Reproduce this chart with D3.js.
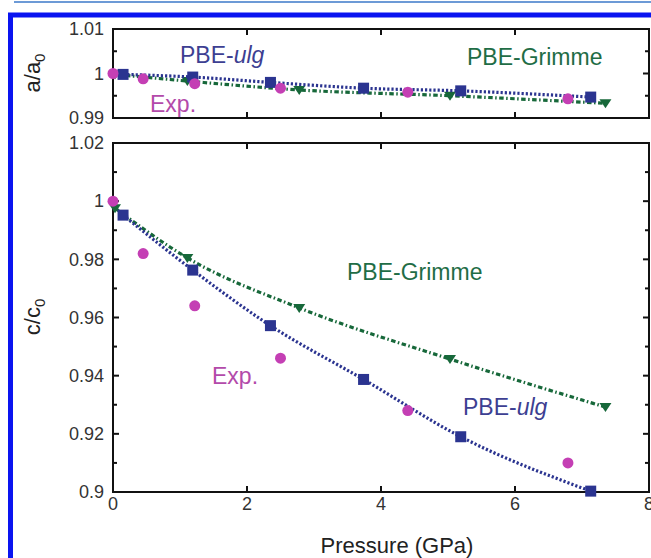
<!DOCTYPE html>
<html>
<head>
<meta charset="utf-8">
<script src="https://cdn.jsdelivr.net/npm/d3@7"></script>
<style>
  body { margin: 0; background: #fff; }
  svg { display: block; font-family: 'Liberation Sans', Arial, sans-serif; }
</style>
</head>
<body>
<div id="app"></div>
<script>
'use strict'

// data
const expP = [0, 0.45, 1.22, 2.5, 4.4, 6.79]
const expA = [1.0, 0.9988, 0.9977, 0.9967, 0.9958, 0.9943]
const expC = [1.0, 0.982, 0.964, 0.946, 0.928, 0.910]

const ulgP = [0.15, 1.19, 2.35, 3.74, 5.19, 7.13]
const ulgA = [0.9998, 0.9992, 0.9980, 0.9967, 0.9961, 0.9947]
const ulgC = [0.9952, 0.9763, 0.9572, 0.9387, 0.9190, 0.9003]

const grimP = [0.03, 1.11, 2.78, 5.03, 7.35]
const grimA = [0.9998, 0.9983, 0.9963, 0.9950, 0.9933]
const grimC = [0.9976, 0.9805, 0.9633, 0.9457, 0.9292]

const xTicks = [0, 2, 4, 6, 8]
const aTicks = [0.99, 1, 1.01]
const aMinor = [0.995, 1.005]
const cTicks = [0.9, 0.92, 0.94, 0.96, 0.98, 1, 1.02]
const cMinor = [0.91, 0.93, 0.95, 0.97, 0.99, 1.01]

const W = 651
const H = 558

const colExp = '#c43fb4'
const colUlg = '#2b3490'
const colGrim = '#17683a'
const txtExp = '#b34aaa'
const txtUlg = '#3d3f92'
const txtGrim = '#1f6d46'

const svg = d3.select('#app')
  .append('svg')
  .attr('width', W)
  .attr('height', H)

// page decoration
svg.append('line')
  .attr('x1', 14).attr('x2', W)
  .attr('y1', 2).attr('y2', 2)
  .attr('stroke', '#3b78c8')
  .attr('stroke-width', 1.5)

svg.append('rect')
  .attr('x', 10.5).attr('y', 15)
  .attr('width', W + 20).attr('height', H + 20)
  .attr('fill', 'none')
  .attr('stroke', '#0a14f0')
  .attr('stroke-width', 5)

const x = d3.scaleLinear().domain([0, 8]).range([113, 649])
const yA = d3.scaleLinear().domain([0.99, 1.01]).range([118, 29])
const yC = d3.scaleLinear().domain([0.9, 1.02]).range([492, 143])

const fmt = d3.format('~g')

const drawFrame = (y, major, minor, showX) => {
  const g = svg.append('g')
  const [y0, y1] = y.range()
  const [x0, x1] = x.range()

  const xInner = xTicks.filter(d => d > 0 && d < 8)
  xInner.forEach(d => {
    g.append('line').attr('x1', x(d)).attr('x2', x(d))
      .attr('y1', y0).attr('y2', y0 - 6)
      .attr('stroke', '#111').attr('stroke-width', 2)
    g.append('line').attr('x1', x(d)).attr('x2', x(d))
      .attr('y1', y1).attr('y2', y1 + 6)
      .attr('stroke', '#111').attr('stroke-width', 2)
  })

  const yTicks = major.filter(d => d !== y.domain()[0] && d !== y.domain()[1])
  yTicks.concat(minor).forEach(d => {
    const len = major.includes(d) ? 6 : 4
    g.append('line').attr('x1', x0).attr('x2', x0 + len)
      .attr('y1', y(d)).attr('y2', y(d))
      .attr('stroke', '#111').attr('stroke-width', 2)
    g.append('line').attr('x1', x1).attr('x2', x1 - len)
      .attr('y1', y(d)).attr('y2', y(d))
      .attr('stroke', '#111').attr('stroke-width', 2)
  })

  g.append('rect')
    .attr('x', x0).attr('y', y1)
    .attr('width', x1 - x0).attr('height', y0 - y1)
    .attr('fill', 'none')
    .attr('stroke', '#111')
    .attr('stroke-width', 2)

  g.selectAll('.ylab')
    .data(major)
    .enter()
    .append('text')
    .attr('x', x0 - 9)
    .attr('y', d => y(d))
    .attr('dy', '0.35em')
    .attr('text-anchor', 'end')
    .attr('font-size', 18)
    .attr('fill', '#333')
    .text(d => fmt(d))

  if (showX) {
    g.selectAll('.xlab')
      .data(xTicks)
      .enter()
      .append('text')
      .attr('x', d => x(d))
      .attr('y', y0 + 18)
      .attr('text-anchor', 'middle')
      .attr('font-size', 18)
      .attr('fill', '#333')
      .text(d => d)
  }
}

const drawSeries = (y, pArr, vArr, shape, color, dash) => {
  const pts = pArr.map((p, i) => [p, vArr[i]])
  if (dash) {
    const line = d3.line()
      .x(d => x(d[0]))
      .y(d => y(d[1]))
      .curve(d3.curveMonotoneX)
    svg.append('path')
      .datum(pts)
      .attr('d', line)
      .attr('fill', 'none')
      .attr('stroke', color)
      .attr('stroke-width', 3.2)
      .attr('stroke-dasharray', dash)
  }
  const g = svg.append('g')
  pts.forEach(d => {
    const cx = x(d[0])
    const cy = y(d[1])
    if (shape === 'circle') {
      g.append('circle').attr('cx', cx).attr('cy', cy).attr('r', 5.5).attr('fill', color)
    } else if (shape === 'square') {
      g.append('rect').attr('x', cx - 5.5).attr('y', cy - 5.5)
        .attr('width', 11).attr('height', 11).attr('fill', color)
    } else {
      g.append('path')
        .attr('d', `M${cx - 6},${cy - 4}L${cx + 6},${cy - 4}L${cx},${cy + 5}Z`)
        .attr('fill', color)
    }
  })
}

drawFrame(yA, aTicks, aMinor, false)
drawFrame(yC, cTicks, cMinor, true)

// top panel
drawSeries(yA, grimP, grimA, 'tri', colGrim, '4.5,2.5,1.5,2.5')
drawSeries(yA, ulgP, ulgA, 'square', colUlg, '2.2,2')
drawSeries(yA, expP, expA, 'circle', colExp, null)

// bottom panel
drawSeries(yC, grimP, grimC, 'tri', colGrim, '4.5,2.5,1.5,2.5')
drawSeries(yC, ulgP, ulgC, 'square', colUlg, '2.2,2')
drawSeries(yC, expP, expC, 'circle', colExp, null)

// in-plot labels
const label = (tx, ty, color, parts) => {
  const t = svg.append('text')
    .attr('x', tx).attr('y', ty)
    .attr('font-size', 23)
    .attr('fill', color)
  parts.forEach(p => {
    t.append('tspan').attr('font-style', p[1] ? 'italic' : 'normal').text(p[0])
  })
}

label(180, 63, txtUlg, [['PBE-', false], ['ulg', true]])
label(150, 112, txtExp, [['Exp.', false]])
label(467, 65, txtGrim, [['PBE-Grimme', false]])

label(347, 280, txtGrim, [['PBE-Grimme', false]])
label(212, 384, txtExp, [['Exp.', false]])
label(463, 415, txtUlg, [['PBE-', false], ['ulg', true]])

// axis titles
const yTitle = (cx, cy, base) => {
  const t = svg.append('text')
    .attr('transform', `translate(${cx},${cy}) rotate(-90)`)
    .attr('text-anchor', 'middle')
    .attr('font-size', 22)
    .attr('fill', '#222')
  t.append('tspan').text(`${base}/${base}`)
  t.append('tspan').attr('font-size', 15).attr('dy', 5).text('0')
}

yTitle(40, 73, 'a')
yTitle(40, 317, 'c')

svg.append('text')
  .attr('x', 397)
  .attr('y', 553)
  .attr('text-anchor', 'middle')
  .attr('font-size', 22)
  .attr('fill', '#222')
  .text('Pressure (GPa)')
</script>
</body>
</html>
